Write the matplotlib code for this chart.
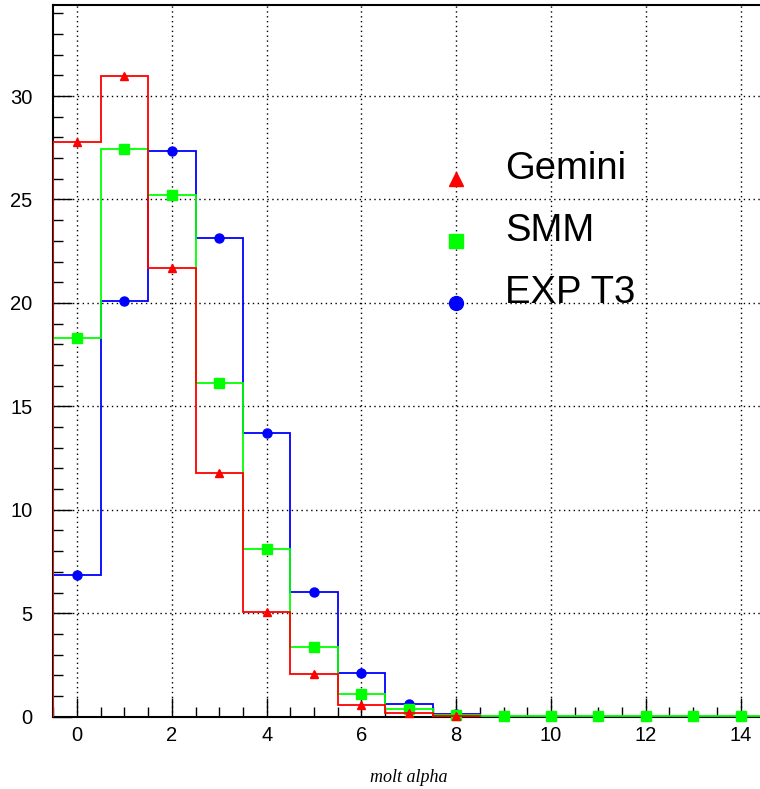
import numpy as np
import matplotlib
matplotlib.use("Agg")
import matplotlib.pyplot as plt
from matplotlib.ticker import MultipleLocator

# Alpha-particle multiplicity distributions (percent of events per multiplicity)
multiplicity = list(range(15))
gemini = [27.8, 30.95, 21.7, 11.8, 5.05, 2.05, 0.55, 0.16, 0.03]
smm = [18.3, 27.45, 25.2, 16.15, 8.1, 3.35, 1.08, 0.36, 0.08,
       0.02, 0.02, 0.02, 0.02, 0.02, 0.02]
exp_t3 = [6.85, 20.1, 27.35, 23.15, 13.7, 6.05, 2.12, 0.6, 0.15]

series_names = ["Gemini", "SMM", "EXP T3"]
legend_y = [26.0, 23.0, 20.0]

plt.rcParams["font.family"] = ["Liberation Sans", "DejaVu Sans"]

fig = plt.figure(figsize=(7.6, 7.89), dpi=100)
ax = fig.add_axes([53.4 / 760, 1 - 716.7 / 789, 1 - 53.4 / 760, (716.7 - 5) / 789])

RED, GREEN, BLUE = "#ff0000", "#00ff00", "#0000ff"


def draw_hist(vals, color, marker, ms, z):
    n = len(vals)
    edges = np.arange(n + 1) - 0.5
    ax.stairs(vals, edges, baseline=0, color=color, lw=1.3, zorder=z)
    ax.plot(multiplicity[:n], vals, ls="none", marker=marker, ms=ms,
            color=color, mec=color, zorder=z + 0.5, clip_on=False)


draw_hist(exp_t3, BLUE, "o", 6.5, 3)
draw_hist(smm, GREEN, "s", 6.5, 4)
draw_hist(gemini, RED, "^", 6, 5)

# In-frame legend
for name, y, col, mk, ms in zip(series_names, legend_y, [RED, GREEN, BLUE],
                                ["^", "s", "o"], [10, 10, 10]):
    ax.plot([8], [y], ls="none", marker=mk, ms=ms, color=col, zorder=6)
    ax.text(9.03, y, name, fontsize=27.5, va="baseline", ha="left",
            color="black", zorder=6)

ax.set_xlim(-0.5, 14.41)
ax.set_ylim(0, 34.4)

ax.xaxis.set_major_locator(MultipleLocator(2))
ax.xaxis.set_minor_locator(MultipleLocator(0.5))
ax.yaxis.set_major_locator(MultipleLocator(5))
ax.yaxis.set_minor_locator(MultipleLocator(1))

ax.grid(True, which="major", color="black", ls=(0, (1, 2.5)), lw=1.0)
ax.set_axisbelow(True)

ax.tick_params(which="both", direction="in", top=False, right=False,
               width=1.0, color="black")
ax.tick_params(which="major", length=14, labelsize=14.5, pad=7)
ax.tick_params(axis="y", which="major", pad=15)
ax.tick_params(which="minor", length=7)

for side in ["left", "bottom", "top"]:
    ax.spines[side].set_linewidth(1.5)
    ax.spines[side].set_color("black")
ax.spines["right"].set_visible(False)

fig.text(409 / 760, 1 - 777 / 789, "molt alpha", fontsize=13,
         family=["Liberation Serif", "DejaVu Serif"], style="italic",
         ha="center", va="center")

fig.savefig("out.png", dpi=100)
